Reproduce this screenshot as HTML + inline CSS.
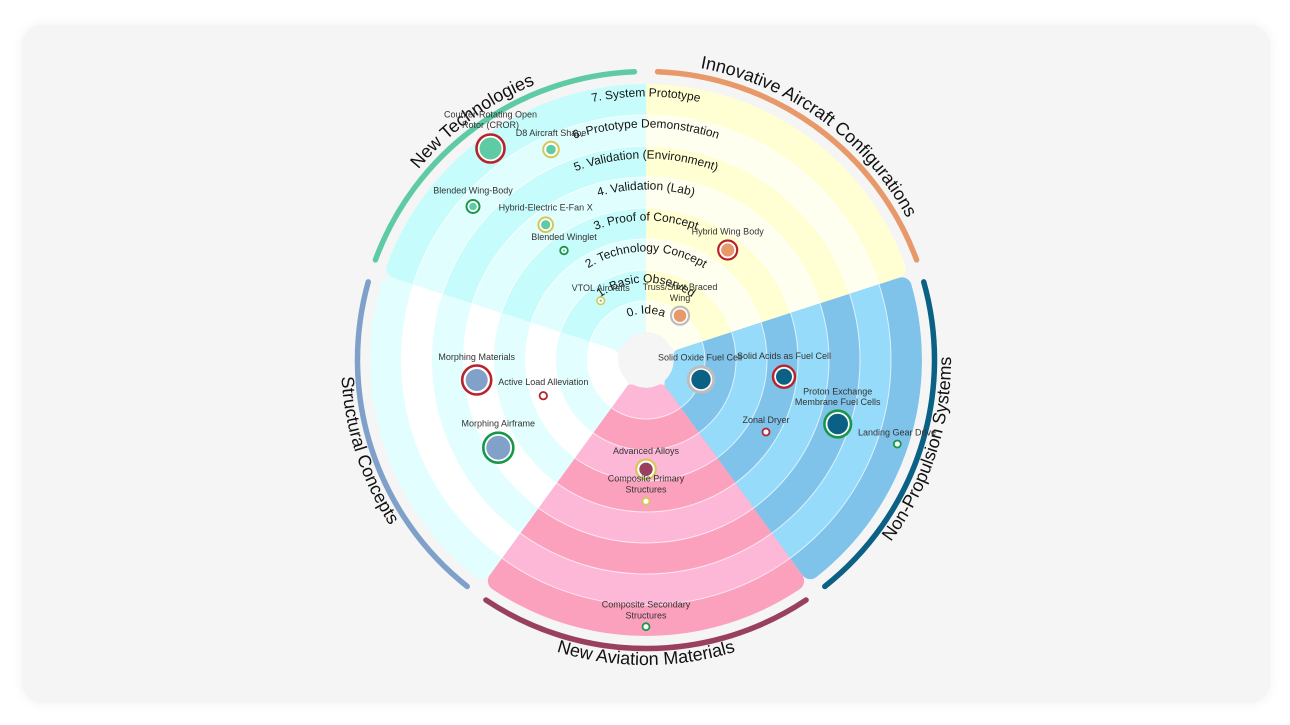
<!DOCTYPE html>
<html>
<head>
<meta charset="utf-8">
<style>
  html,body{margin:0;padding:0;background:#ffffff;}
  body{width:1290px;height:725px;overflow:hidden;position:relative;font-family:"Liberation Sans",Arial,sans-serif;}
  .card{position:absolute;left:22px;top:25px;width:1248px;height:678px;border-radius:20px;background:#f5f5f5;box-shadow:0 0 12px rgba(0,0,0,0.06);}
  svg{position:absolute;left:0;top:0;}
  .rl{font-size:12px;fill:#141414;}
  .cl{font-size:18px;fill:#111;}
  .bl{font-size:9px;fill:#333;text-anchor:middle;}
</style>
</head>
<body>
<div class="card"></div>
<svg width="1290" height="725" viewBox="0 0 1290 725" xmlns="http://www.w3.org/2000/svg">
<defs>
  <clipPath id="cNT"><path transform="scale(-1,1)" d="M0,-276 A276,276 0 0 1 259.10,-95.10 A10,10 0 0 1 252.80,-82.14 L31.83,-10.34 A6,6 0 0 1 24.69,-13.21 A28,28 0 0 0 0,-28 Z"/></clipPath>
  <clipPath id="cIA"><path d="M0,-276 A276,276 0 0 1 259.10,-95.10 A10,10 0 0 1 252.80,-82.14 L31.83,-10.34 A6,6 0 0 1 24.69,-13.21 A28,28 0 0 0 0,-28 Z"/></clipPath>
  <clipPath id="cNP"><path transform="rotate(72)" d="M0,-265.81 A10,10 0 0 1 10.38,-275.80 A276,276 0 0 1 259.10,-95.10 A10,10 0 0 1 252.80,-82.14 L31.83,-10.34 A6,6 0 0 1 24.69,-13.21 A28,28 0 0 0 4.94,-27.56 A6,6 0 0 1 0,-33.47 Z"/></clipPath>
  <clipPath id="cAM"><path transform="rotate(144)" d="M0,-265.81 A10,10 0 0 1 10.38,-275.80 A276,276 0 0 1 259.10,-95.10 A10,10 0 0 1 252.80,-82.14 L31.83,-10.34 A6,6 0 0 1 24.69,-13.21 A28,28 0 0 0 4.94,-27.56 A6,6 0 0 1 0,-33.47 Z"/></clipPath>
  <clipPath id="cSC"><path transform="rotate(216)" d="M0,-265.81 A10,10 0 0 1 10.38,-275.80 A276,276 0 0 1 259.10,-95.10 A10,10 0 0 1 252.80,-82.14 L31.83,-10.34 A6,6 0 0 1 24.69,-13.21 A28,28 0 0 0 4.94,-27.56 A6,6 0 0 1 0,-33.47 Z"/></clipPath>

  <path id="rl0" d="M-46.5,0 A46.5,46.5 0 0 1 46.5,0"/>
  <path id="rl1" d="M-77.5,0 A77.5,77.5 0 0 1 77.5,0"/>
  <path id="rl2" d="M-108.5,0 A108.5,108.5 0 0 1 108.5,0"/>
  <path id="rl3" d="M-139.5,0 A139.5,139.5 0 0 1 139.5,0"/>
  <path id="rl4" d="M-170.5,0 A170.5,170.5 0 0 1 170.5,0"/>
  <path id="rl5" d="M-201.5,0 A201.5,201.5 0 0 1 201.5,0"/>
  <path id="rl6" d="M-232.5,0 A232.5,232.5 0 0 1 232.5,0"/>
  <path id="rl7" d="M-263.5,0 A263.5,263.5 0 0 1 263.5,0"/>

  <path id="lblTop" d="M-279.09,-101.58 A297,297 0 0 1 279.09,-101.58"/>
  <path id="lblBot" d="M-286.61,104.32 A305,305 0 0 0 286.61,104.32"/>
</defs>

<g transform="translate(646,360)">
  <!-- New Technologies -->
  <g clip-path="url(#cNT)">
    <circle r="276" fill="#c6fcfc"/><circle r="245" fill="#e0fefe"/><circle r="214" fill="#c6fcfc"/><circle r="183" fill="#e0fefe"/>
    <circle r="152" fill="#c6fcfc"/><circle r="121" fill="#e0fefe"/><circle r="90" fill="#c6fcfc"/><circle r="59" fill="#e0fefe"/>
    <g fill="none" stroke="#fff" stroke-opacity="0.8" stroke-width="1">
      <circle r="59"/><circle r="90"/><circle r="121"/><circle r="152"/><circle r="183"/><circle r="214"/><circle r="245"/>
    </g>
  </g>
  <!-- Innovative Aircraft Configurations -->
  <g clip-path="url(#cIA)">
    <circle r="276" fill="#ffffd3"/><circle r="245" fill="#fffff0"/><circle r="214" fill="#ffffd3"/><circle r="183" fill="#fffff0"/>
    <circle r="152" fill="#ffffd3"/><circle r="121" fill="#fffff0"/><circle r="90" fill="#ffffd3"/><circle r="59" fill="#fffff0"/>
    <g fill="none" stroke="#fff" stroke-opacity="0.8" stroke-width="1">
      <circle r="59"/><circle r="90"/><circle r="121"/><circle r="152"/><circle r="183"/><circle r="214"/><circle r="245"/>
    </g>
  </g>
  <!-- Non-Propulsion Systems -->
  <g clip-path="url(#cNP)">
    <circle r="276" fill="#7fc3ea"/><circle r="245" fill="#96dcfa"/><circle r="214" fill="#7fc3ea"/><circle r="183" fill="#96dcfa"/>
    <circle r="152" fill="#7fc3ea"/><circle r="121" fill="#96dcfa"/><circle r="90" fill="#7fc3ea"/><circle r="59" fill="#96dcfa"/>
    <g fill="none" stroke="#fff" stroke-opacity="0.7" stroke-width="1">
      <circle r="59"/><circle r="90"/><circle r="121"/><circle r="152"/><circle r="183"/><circle r="214"/><circle r="245"/>
    </g>
  </g>
  <!-- New Aviation Materials -->
  <g clip-path="url(#cAM)">
    <circle r="276" fill="#fba0bd"/><circle r="245" fill="#fdb7d7"/><circle r="214" fill="#fba0bd"/><circle r="183" fill="#fdb7d7"/>
    <circle r="152" fill="#fba0bd"/><circle r="121" fill="#fdb7d7"/><circle r="90" fill="#fba0bd"/><circle r="59" fill="#fdb7d7"/>
    <g fill="none" stroke="#fff" stroke-opacity="0.7" stroke-width="1">
      <circle r="59"/><circle r="90"/><circle r="121"/><circle r="152"/><circle r="183"/><circle r="214"/><circle r="245"/>
    </g>
  </g>
  <!-- Structural Concepts -->
  <g clip-path="url(#cSC)">
    <circle r="276" fill="#e2fefe"/><circle r="245" fill="#ffffff"/><circle r="214" fill="#e2fefe"/><circle r="183" fill="#ffffff"/>
    <circle r="152" fill="#e2fefe"/><circle r="121" fill="#ffffff"/><circle r="90" fill="#e2fefe"/><circle r="59" fill="#ffffff"/>
  </g>

  <!-- category arcs -->
  <g fill="none" stroke-width="5.5" stroke-linecap="round">
    <path transform="rotate(288)" stroke="#5ecba5" d="M11.58,-288.27 A288.5,288.5 0 0 1 270.58,-100.09"/>
    <path transform="rotate(0)" stroke="#e8996a" d="M11.58,-288.27 A288.5,288.5 0 0 1 270.58,-100.09"/>
    <path transform="rotate(72)" stroke="#0b6185" d="M11.58,-288.27 A288.5,288.5 0 0 1 270.58,-100.09"/>
    <path transform="rotate(144)" stroke="#98405e" d="M11.58,-288.27 A288.5,288.5 0 0 1 270.58,-100.09"/>
    <path transform="rotate(216)" stroke="#7fa0c8" d="M11.58,-288.27 A288.5,288.5 0 0 1 270.58,-100.09"/>
  </g>

  <!-- category labels -->
  <g transform="rotate(324)"><text class="cl" text-anchor="middle"><textPath href="#lblTop" startOffset="50%">New Technologies</textPath></text></g>
  <g transform="rotate(36)"><text class="cl" text-anchor="middle"><textPath href="#lblTop" startOffset="50%">Innovative Aircraft Configurations</textPath></text></g>
  <g transform="rotate(-72)"><text class="cl" text-anchor="middle"><textPath href="#lblBot" startOffset="50%">Non-Propulsion Systems</textPath></text></g>
  <g transform="rotate(0)"><text class="cl" text-anchor="middle"><textPath href="#lblBot" startOffset="50%">New Aviation Materials</textPath></text></g>
  <g transform="rotate(72)"><text class="cl" text-anchor="middle"><textPath href="#lblBot" startOffset="50%">Structural Concepts</textPath></text></g>

  <!-- ring labels -->
  <text class="rl" text-anchor="middle"><textPath href="#rl0" startOffset="50%">0. Idea</textPath></text>
  <text class="rl" text-anchor="middle"><textPath href="#rl1" startOffset="50%">1. Basic Observed</textPath></text>
  <text class="rl" text-anchor="middle"><textPath href="#rl2" startOffset="50%">2. Technology Concept</textPath></text>
  <text class="rl" text-anchor="middle"><textPath href="#rl3" startOffset="50%">3. Proof of Concept</textPath></text>
  <text class="rl" text-anchor="middle"><textPath href="#rl4" startOffset="50%">4. Validation (Lab)</textPath></text>
  <text class="rl" text-anchor="middle"><textPath href="#rl5" startOffset="50%">5. Validation (Environment)</textPath></text>
  <text class="rl" text-anchor="middle"><textPath href="#rl6" startOffset="50%">6. Prototype Demonstration</textPath></text>
  <text class="rl" text-anchor="middle"><textPath href="#rl7" startOffset="50%">7. System Prototype</textPath></text>
</g>

<!-- blips -->
<g>
  <!-- New Technologies -->
  <circle cx="490.5" cy="148.5" r="14" fill="#fff" stroke="#b8232b" stroke-width="2.6"/><circle cx="490.5" cy="148.5" r="11" fill="#5ecba5"/>
  <circle cx="551" cy="149.5" r="7.8" fill="#fff" stroke="#d6c857" stroke-width="2"/><circle cx="551" cy="149.5" r="4.8" fill="#5ecba5"/>
  <circle cx="473" cy="206.5" r="6.5" fill="#fff" stroke="#18974a" stroke-width="2"/><circle cx="473" cy="206.5" r="3.8" fill="#5ecba5"/>
  <circle cx="545.7" cy="224.7" r="7.3" fill="#fff" stroke="#d6c857" stroke-width="2"/><circle cx="545.7" cy="224.7" r="4.6" fill="#5ecba5"/>
  <circle cx="564" cy="250.5" r="3.8" fill="#fff" stroke="#18974a" stroke-width="1.8"/><circle cx="564" cy="250.5" r="1.2" fill="#5ecba5"/>
  <circle cx="600.7" cy="300.7" r="3.8" fill="#fff" stroke="#d6c857" stroke-width="1.6"/><circle cx="600.7" cy="300.7" r="1.2" fill="#5ecba5"/>
  <!-- Innovative -->
  <circle cx="727.7" cy="250" r="9.5" fill="#fff" stroke="#b8232b" stroke-width="2.2"/><circle cx="727.7" cy="250" r="6.6" fill="#e8996a"/>
  <circle cx="680" cy="315.7" r="9" fill="#fff" stroke="#bdbdbd" stroke-width="2.2"/><circle cx="680" cy="315.7" r="6.3" fill="#e8996a"/>
  <!-- Non-Propulsion -->
  <circle cx="701" cy="379.5" r="12.8" fill="#fff" stroke="#bdbdbd" stroke-width="3"/><circle cx="701" cy="379.5" r="9.7" fill="#0b6185"/>
  <circle cx="784" cy="376.7" r="11" fill="#fff" stroke="#b8232b" stroke-width="2.4"/><circle cx="784" cy="376.7" r="8" fill="#0b6185"/>
  <circle cx="837.7" cy="424" r="13.3" fill="#fff" stroke="#18974a" stroke-width="2.6"/><circle cx="837.7" cy="424" r="10.3" fill="#0b6185"/>
  <circle cx="766" cy="432" r="3.5" fill="#fff" stroke="#b8232b" stroke-width="1.8"/>
  <circle cx="897.3" cy="444" r="3.5" fill="#fff" stroke="#18974a" stroke-width="1.8"/>
  <!-- Materials -->
  <circle cx="646" cy="469.3" r="9.8" fill="#fff" stroke="#d6c857" stroke-width="2.2"/><circle cx="646" cy="469.3" r="6.7" fill="#98405e"/>
  <circle cx="646" cy="501.3" r="3.5" fill="#fff" stroke="#d6c857" stroke-width="1.8"/>
  <circle cx="646" cy="626.7" r="3.5" fill="#fff" stroke="#18974a" stroke-width="1.8"/>
  <!-- Structural -->
  <circle cx="476.7" cy="380" r="14.5" fill="#fff" stroke="#b8232b" stroke-width="2.6"/><circle cx="476.7" cy="380" r="11" fill="#82a1c9"/>
  <circle cx="543.3" cy="395.7" r="3.7" fill="#fff" stroke="#b8232b" stroke-width="1.8"/>
  <circle cx="498.3" cy="447.7" r="15" fill="#fff" stroke="#18974a" stroke-width="2.6"/><circle cx="498.3" cy="447.7" r="12" fill="#82a1c9"/>
</g>

<!-- blip labels -->
<g>
  <text class="bl" x="490.5" y="117.5">Counter-Rotating Open</text>
  <text class="bl" x="490.5" y="128">Rotor (CROR)</text>
  <text class="bl" x="551" y="136">D8 Aircraft Shape</text>
  <text class="bl" x="473" y="193.3">Blended Wing-Body</text>
  <text class="bl" x="545.7" y="210.5">Hybrid-Electric E-Fan X</text>
  <text class="bl" x="564" y="240">Blended Winglet</text>
  <text class="bl" x="600.7" y="291">VTOL Aircrafts</text>
  <text class="bl" x="727.7" y="234.5">Hybrid Wing Body</text>
  <text class="bl" x="680" y="290">Truss/Strut Braced</text>
  <text class="bl" x="680" y="301">Wing</text>
  <text class="bl" x="700" y="360.5">Solid Oxide Fuel Cell</text>
  <text class="bl" x="784" y="359">Solid Acids as Fuel Cell</text>
  <text class="bl" x="837.7" y="394.3">Proton Exchange</text>
  <text class="bl" x="837.7" y="405">Membrane Fuel Cells</text>
  <text class="bl" x="766" y="423">Zonal Dryer</text>
  <text class="bl" x="897" y="435.5">Landing Gear Drive</text>
  <text class="bl" x="646" y="454">Advanced Alloys</text>
  <text class="bl" x="646" y="481.5">Composite Primary</text>
  <text class="bl" x="646" y="492.3">Structures</text>
  <text class="bl" x="646" y="607.3">Composite Secondary</text>
  <text class="bl" x="646" y="618.3">Structures</text>
  <text class="bl" x="476.7" y="360">Morphing Materials</text>
  <text class="bl" x="543.3" y="385">Active Load Alleviation</text>
  <text class="bl" x="498.3" y="426.3">Morphing Airframe</text>
</g>
</svg>
</body>
</html>
